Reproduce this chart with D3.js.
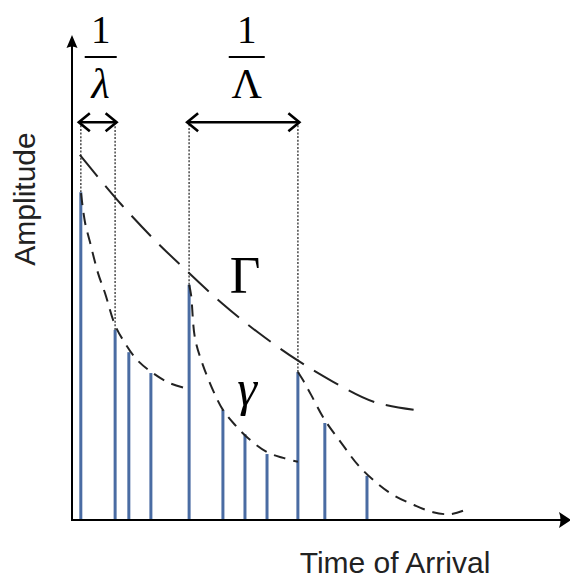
<!DOCTYPE html>
<html>
<head>
<meta charset="utf-8">
<script src="https://cdn.jsdelivr.net/npm/d3@7/dist/d3.min.js"></script>
<style>
  html, body { margin: 0; padding: 0; background: #fff; }
  svg { display: block; }
</style>
</head>
<body>
<svg id="chart" width="570" height="581"></svg>
<script>
// ---- data (time in arbitrary units, amplitude normalised) ----
const rayTimes      = [1.8, 8.8, 11.6, 16.1, 23.9, 30.8, 35.3, 39.8, 46.1, 51.6, 60.2];
const rayAmplitudes = [0.676, 0.392, 0.346, 0.303, 0.485, 0.227, 0.177, 0.136, 0.305, 0.200, 0.091];

// cluster (Γ) envelope
const clusterEnvT = [1.6, 6.3, 10.2, 16.9, 23.7, 30.6, 37.8, 45.9, 53.3, 61.8, 71.4];
const clusterEnvA = [0.753, 0.695, 0.649, 0.577, 0.511, 0.447, 0.388, 0.330, 0.285, 0.243, 0.225];

// ray (γ) envelopes, one per cluster
const rayEnv1T = [1.84, 2.65, 3.67, 5.31, 6.73, 8.78, 10.8, 13.3, 16.5, 20.0, 23.9];
const rayEnv1A = [0.674, 0.614, 0.573, 0.509, 0.468, 0.402, 0.365, 0.330, 0.303, 0.282, 0.270];
const rayEnv2T = [23.9, 24.3, 25.1, 26.7, 29.2, 30.8, 33.1, 35.9, 39.8, 43.1, 46.1];
const rayEnv2A = [0.485, 0.464, 0.375, 0.320, 0.258, 0.227, 0.198, 0.169, 0.140, 0.128, 0.120];
const rayEnv3T = [46.1, 47.1, 48.8, 51.6, 55.1, 58.4, 62.0, 65.5, 69.8, 73.7, 77.1, 79.8];
const rayEnv3A = [0.305, 0.289, 0.258, 0.206, 0.157, 0.113, 0.078, 0.052, 0.031, 0.016, 0.012, 0.019];

// marked intervals
const guideTimes      = [1.8, 8.8, 23.9, 46.1];
const guideAmplitudes = [0.676, 0.392, 0.485, 0.305];
const rayInterval     = [1.8, 8.8];   // 1/λ
const clusterInterval = [23.9, 46.1]; // 1/Λ
const intervalLevel   = 0.820;

const xLabel = "Time of Arrival";
const yLabel = "Amplitude";

// ---- scales ----
const x = d3.scaleLinear().domain([0, 100]).range([72, 562]);
const y = d3.scaleLinear().domain([0, 1]).range([520, 35]);

const svg = d3.select("#chart");
const serif = "'Liberation Serif','Times New Roman',Times,serif";
const sans = "'Liberation Sans',Arial,Helvetica,sans-serif";

// ---- guide dotted lines ----
svg.append("g").selectAll("line").data(guideTimes).join("line")
  .attr("x1", d => x(d)).attr("x2", d => x(d))
  .attr("y1", (d, i) => y(guideAmplitudes[i]))
  .attr("y2", y(intervalLevel) + 3)
  .attr("stroke", "#555").attr("stroke-width", 1.6)
  .attr("stroke-dasharray", "2,1.6");

// ---- stems ----
svg.append("g").selectAll("line").data(rayTimes).join("line")
  .attr("x1", d => x(d)).attr("x2", d => x(d))
  .attr("y1", y(0)).attr("y2", (d, i) => y(rayAmplitudes[i]))
  .attr("stroke", "#4a6ca3").attr("stroke-width", 3);

// ---- envelopes ----
const line = d3.line().x(d => x(d[0])).y(d => y(d[1])).curve(d3.curveCatmullRom);
const zip = (t, a) => t.map((v, i) => [v, a[i]]);

svg.append("path").datum(zip(clusterEnvT, clusterEnvA))
  .attr("d", line).attr("fill", "none")
  .attr("stroke", "#222").attr("stroke-width", 2)
  .attr("stroke-dasharray", "28,12");

[[rayEnv1T, rayEnv1A], [rayEnv2T, rayEnv2A], [rayEnv3T, rayEnv3A]].forEach(([t, a]) => {
  svg.append("path").datum(zip(t, a))
    .attr("d", line).attr("fill", "none")
    .attr("stroke", "#222").attr("stroke-width", 2)
    .attr("stroke-dasharray", "12,8");
});

// ---- axes ----
const xAxisG = svg.append("g").attr("transform", `translate(0,${y(0)})`)
  .call(d3.axisBottom(x).tickValues([]).tickSizeOuter(0));
xAxisG.select(".domain").attr("stroke", "#000").attr("stroke-width", 2)
  .attr("d", `M${x(0) - 1},0H${x.range()[1] + 2}`);
const yAxisG = svg.append("g").attr("transform", `translate(${x(0)},0)`)
  .call(d3.axisLeft(y).tickValues([]).tickSizeOuter(0));
yAxisG.select(".domain").attr("stroke", "#000").attr("stroke-width", 2)
  .attr("d", `M0,${y(0) + 1}V${y.range()[1] + 10}`);

// arrow heads
const x0 = x(0), y0 = y(0);
const xEnd = x.range()[1], yEnd = y.range()[1];
svg.append("path")
  .attr("d", `M${x0},${yEnd} L${x0 + 5.5},${yEnd + 13} Q${x0},${yEnd + 10} ${x0 - 5.5},${yEnd + 13} Z`)
  .attr("fill", "#000");
svg.append("path")
  .attr("d", `M${xEnd + 9},${y0} L${xEnd - 3},${y0 - 8} Q${xEnd},${y0} ${xEnd - 3},${y0 + 8} Z`)
  .attr("fill", "#000");

// ---- interval arrows ----
function dblArrow(t1, t2) {
  const xa = x(t1) - 2, xb = x(t2) + 1.5, yy = y(intervalLevel);
  const g = svg.append("g").attr("fill", "none").attr("stroke", "#000")
    .attr("stroke-width", 2.6).attr("stroke-linejoin", "miter");
  g.append("line").attr("x1", xa).attr("x2", xb).attr("y1", yy).attr("y2", yy);
  g.append("path").attr("d", `M${xa + 11},${yy - 9} L${xa},${yy} L${xa + 11},${yy + 9}`);
  g.append("path").attr("d", `M${xb - 11},${yy - 9} L${xb},${yy} L${xb - 11},${yy + 9}`);
  return (xa + xb) / 2;
}
function fraction(cx, denom, italic, barW) {
  const g = svg.append("g");
  g.append("text").attr("x", cx).attr("y", 43).attr("text-anchor", "middle")
    .attr("font-family", serif).attr("font-size", 39).text("1");
  g.append("line").attr("x1", cx - barW / 2).attr("x2", cx + barW / 2)
    .attr("y1", 57).attr("y2", 57).attr("stroke", "#000").attr("stroke-width", 2);
  g.append("text").attr("x", cx).attr("y", 98).attr("text-anchor", "middle")
    .attr("font-family", serif).attr("font-size", 42)
    .attr("font-style", italic ? "italic" : "normal").text(denom);
}
const c1 = dblArrow(rayInterval[0], rayInterval[1]);
fraction(c1 + 3, "λ", true, 32);
const c2 = dblArrow(clusterInterval[0], clusterInterval[1]);
fraction(c2 + 3.5, "Λ", false, 36);

// ---- envelope labels ----
svg.append("text").attr("x", 245).attr("y", 293).attr("text-anchor", "middle")
  .attr("font-family", serif).attr("font-size", 53).text("Γ");
svg.append("text").attr("x", 247).attr("y", 405).attr("text-anchor", "middle")
  .attr("font-family", serif).attr("font-size", 50).attr("font-style", "italic").text("γ");

// ---- axis titles ----
svg.append("text").attr("x", 395).attr("y", 573).attr("text-anchor", "middle")
  .attr("font-family", sans).attr("font-size", 30).attr("fill", "#222").text(xLabel);
svg.append("text").attr("transform", "translate(35,199) rotate(-90)")
  .attr("text-anchor", "middle")
  .attr("font-family", sans).attr("font-size", 30).attr("fill", "#222").text(yLabel);
</script>
</body>
</html>
